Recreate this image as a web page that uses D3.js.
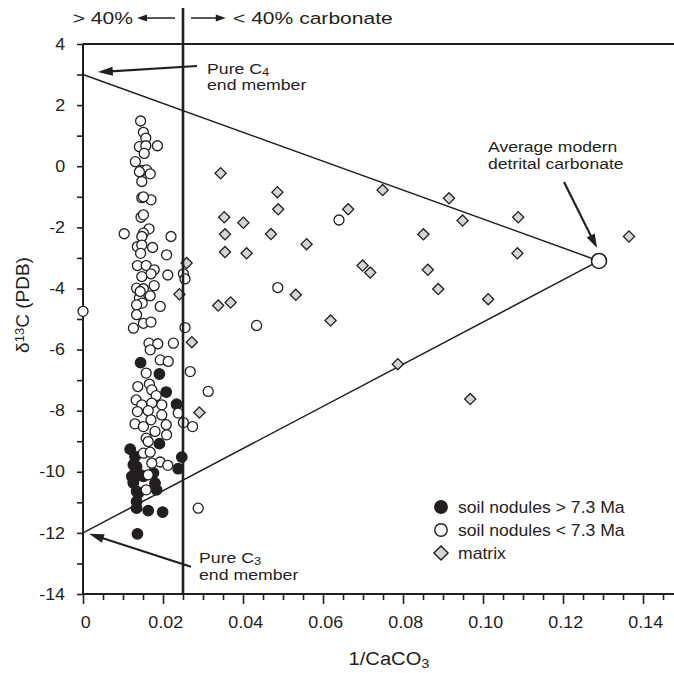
<!DOCTYPE html>
<html>
<head>
<meta charset="utf-8">
<script src="https://cdn.jsdelivr.net/npm/d3@7"></script>
<style>
  body { margin: 0; background: #fff; }
  text { font-family: "Liberation Sans", Arial, Helvetica, sans-serif; fill: #231f20; }
</style>
</head>
<body>
<script>
// soil nodules > 7.3 Ma  [1/CaCO3, d13C]
var oldNodules = [
  [0.0144,-6.43],[0.0191,-6.80],[0.0208,-7.39],[0.0234,-7.79],[0.0191,-9.08],
  [0.0118,-9.26],[0.0130,-9.50],[0.0247,-9.52],[0.0238,-9.90],[0.0134,-9.83],
  [0.0122,-10.15],[0.0143,-10.10],[0.0126,-10.37],[0.0180,-10.37],[0.0184,-10.59],
  [0.0138,-10.70],[0.0134,-11.19],[0.0163,-11.27],[0.0199,-11.32],[0.0136,-12.03],
  [0.0126,-9.77],[0.0130,-10.04],[0.0126,-10.32],[0.0176,-10.04],[0.0134,-10.97],
  [0.0134,-10.64],[0.0151,-10.15]
]

// soil nodules < 7.3 Ma
var youngNodules = [
  [0.0144,1.48],[0.0151,1.11],[0.0157,0.92],[0.0141,0.64],[0.0157,0.67],
  [0.0186,0.67],[0.0153,0.42],[0.0131,0.15],[0.0147,-0.14],[0.0159,-0.12],
  [0.0168,-0.25],[0.0141,-0.18],[0.0147,-0.50],[0.0147,-1.03],[0.0170,-1.10],
  [0.0151,-1.00],[0.0145,-1.67],[0.0151,-1.59],[0.0103,-2.21],[0.0165,-2.05],
  [0.0151,-2.19],[0.0147,-2.30],[0.0220,-2.30],[0.0136,-2.63],[0.0147,-2.58],
  [0.0174,-2.66],[0.0144,-2.85],[0.0209,-2.90],[0.0136,-3.25],[0.0158,-3.25],
  [0.0178,-3.39],[0.0170,-3.52],[0.0147,-3.61],[0.0212,-3.56],[0.0251,-3.52],
  [0.0255,-3.69],[0.0134,-3.99],[0.0151,-4.01],[0.0178,-3.91],[0.0168,-4.24],
  [0.0141,-4.31],[0.0143,-4.10],[0.0148,-4.48],[0.0134,-4.54],[0.0193,-4.59],
  [0.0000,-4.75],[0.0134,-4.86],[0.0151,-5.14],[0.0170,-5.10],[0.0126,-5.30],
  [0.0255,-5.28],[0.0165,-5.79],[0.0187,-5.81],[0.0168,-6.01],[0.0226,-5.79],
  [0.0193,-6.34],[0.0213,-6.39],[0.0158,-6.77],[0.0268,-6.72],[0.0313,-7.37],
  [0.0166,-7.13],[0.0137,-7.21],[0.0172,-7.32],[0.0183,-7.51],[0.0133,-7.65],
  [0.0147,-7.81],[0.0172,-7.75],[0.0197,-7.81],[0.0136,-8.03],[0.0163,-8.00],
  [0.0197,-8.14],[0.0238,-8.08],[0.0170,-8.30],[0.0130,-8.43],[0.0151,-8.52],
  [0.0208,-8.46],[0.0251,-8.39],[0.0274,-8.52],[0.0180,-8.68],[0.0209,-8.79],
  [0.0158,-8.90],[0.0163,-9.01],[0.0151,-9.39],[0.0168,-9.36],[0.0193,-9.68],
  [0.0212,-9.79],[0.0172,-9.72],[0.0163,-10.10],[0.0158,-10.59],[0.0288,-11.19],
  [0.0640,-1.76],[0.0487,-3.97],[0.0434,-5.21]
]

// matrix samples
var matrix = [
  [0.0259,-3.17],[0.0241,-4.19],[0.0272,-5.76],[0.0291,-8.06],[0.0344,-0.23],
  [0.0486,-0.85],[0.0488,-1.41],[0.0353,-1.67],[0.0401,-1.85],[0.0355,-2.23],
  [0.0470,-2.22],[0.0559,-2.55],[0.0355,-2.81],[0.0409,-2.85],[0.0663,-1.41],
  [0.0749,-0.78],[0.0699,-3.25],[0.0718,-3.48],[0.0851,-2.23],[0.0862,-3.39],
  [0.0888,-4.02],[0.0915,-1.05],[0.0949,-1.78],[0.1088,-1.67],[0.1086,-2.85],
  [0.1013,-4.35],[0.1365,-2.30],[0.0532,-4.21],[0.0338,-4.56],[0.0369,-4.46],
  [0.0619,-5.05],[0.0787,-6.48],[0.0968,-7.62]
]

// end members and mixing lines
var modern = [0.129, -3.1]
var c4End = [0, 3]
var c3End = [0, -12]
var carbonateCut = 0.025

var xTicks = d3.range(0, 0.1451, 0.005)
var yTicks = d3.range(-14, 4.01, 1)

var legendItems = ['soil nodules > 7.3 Ma', 'soil nodules < 7.3 Ma', 'matrix']

var W = 674, H = 673
var ink = '#231f20'
var grey = '#d4d5d6'

var svg = d3.select('body').append('svg')
  .attr('width', W).attr('height', H)
  .style('background-color', '#fff')

var x = d3.scaleLinear().domain([0, 0.14]).range([83, 643])
var y = d3.scaleLinear().domain([-14, 4]).range([594, 44])
var xEdge = x.invert(W)

function isMajor(d){ return Math.abs(d / 0.02 - Math.round(d / 0.02)) < 1e-6 }

// text helper, original lettering is a bit wide
function label(px, py, str, size, k, anchor){
  return svg.append('text')
    .attr('transform', 'translate(' + px + ',' + py + ') scale(' + k + ',1)')
    .attr('font-size', size)
    .attr('text-anchor', anchor || 'start')
    .text(str)
}

function arrow(from, to, w, headLen, headW){
  var x1 = x(from[0]), y1 = y(from[1]), x2 = x(to[0]), y2 = y(to[1])
  var dx = x2 - x1, dy = y2 - y1, L = Math.sqrt(dx * dx + dy * dy)
  var ux = dx / L, uy = dy / L
  var bx = x2 - ux * headLen, by = y2 - uy * headLen
  svg.append('line')
    .attr('x1', x1).attr('y1', y1).attr('x2', bx + ux * 2).attr('y2', by + uy * 2)
    .attr('stroke', ink).attr('stroke-width', w)
  svg.append('path')
    .attr('d', 'M' + x2 + ',' + y2 +
      'L' + (bx - uy * headW / 2) + ',' + (by + ux * headW / 2) +
      'L' + (bx + uy * headW / 2) + ',' + (by - ux * headW / 2) + 'Z')
    .attr('fill', ink)
}

// axes
var yAxis = d3.axisLeft(y).tickValues(yTicks)
  .tickSizeInner(6).tickSizeOuter(0).tickPadding(10)
  .tickFormat(function(d){ return d % 2 === 0 ? String(d) : '' })
var gy = svg.append('g').attr('transform', 'translate(' + x(0) + ',0)').call(yAxis)
gy.select('.domain').remove()
gy.selectAll('line').attr('stroke', ink).attr('stroke-width', 1.6)
gy.selectAll('text').attr('font-size', 16).attr('fill', ink)
  .attr('font-family', '"Liberation Sans", Arial, sans-serif')
  .attr('transform', 'scale(1.12,1)')

var xAxis = d3.axisBottom(x).tickValues(xTicks)
  .tickSizeInner(6).tickSizeOuter(0).tickPadding(17)
  .tickFormat(function(d){ return isMajor(d) ? (d === 0 ? '0' : d.toFixed(2)) : '' })
var gx = svg.append('g').attr('transform', 'translate(0,' + y(-14) + ')').call(xAxis)
gx.select('.domain').remove()
gx.selectAll('line').attr('stroke', ink).attr('stroke-width', 1.6)
  .attr('y2', function(d){ return isMajor(d) ? 10 : 6 })
gx.selectAll('text').attr('font-size', 16).attr('fill', ink)
  .attr('font-family', '"Liberation Sans", Arial, sans-serif')
  .attr('x', 2)
  .attr('transform', 'scale(1.12,1)')

// frame lines
svg.append('line').attr('x1', x(0)).attr('x2', x(0)).attr('y1', y(4)).attr('y2', y(-14))
  .attr('stroke', ink).attr('stroke-width', 2)
svg.append('line').attr('x1', x(0)).attr('x2', x(xEdge)).attr('y1', y(-14)).attr('y2', y(-14))
  .attr('stroke', ink).attr('stroke-width', 2)
svg.append('line').attr('x1', x(0)).attr('x2', x(xEdge)).attr('y1', y(4)).attr('y2', y(4))
  .attr('stroke', ink).attr('stroke-width', 1.8)

// mixing lines
var mix = d3.line().x(function(d){ return x(d[0]) }).y(function(d){ return y(d[1]) })
svg.append('path').attr('d', mix([c4End, modern])).attr('fill', 'none')
  .attr('stroke', ink).attr('stroke-width', 1.5)
svg.append('path').attr('d', mix([c3End, modern])).attr('fill', 'none')
  .attr('stroke', ink).attr('stroke-width', 1.5)

// points
var diamond = d3.symbol().type(d3.symbolSquare).size(62)
svg.append('g').selectAll('path').data(matrix).enter().append('path')
  .attr('d', diamond)
  .attr('transform', function(d){ return 'translate(' + x(d[0]) + ',' + y(d[1]) + ') rotate(45)' })
  .attr('fill', grey).attr('stroke', ink).attr('stroke-width', 1.3)

svg.append('g').selectAll('circle').data(oldNodules).enter().append('circle')
  .attr('cx', function(d){ return x(d[0]) }).attr('cy', function(d){ return y(d[1]) })
  .attr('r', 5.3).attr('fill', ink).attr('stroke', ink).attr('stroke-width', 1.2)

svg.append('g').selectAll('circle').data(youngNodules).enter().append('circle')
  .attr('cx', function(d){ return x(d[0]) }).attr('cy', function(d){ return y(d[1]) })
  .attr('r', 5).attr('fill', '#fff').attr('stroke', ink).attr('stroke-width', 1.3)

svg.append('circle').attr('cx', x(modern[0])).attr('cy', y(modern[1])).attr('r', 7.5)
  .attr('fill', '#fff').attr('stroke', ink).attr('stroke-width', 1.6)

// 40% carbonate line
svg.append('line').attr('x1', x(carbonateCut)).attr('x2', x(carbonateCut))
  .attr('y1', y(5.18)).attr('y2', y(-14))
  .attr('stroke', ink).attr('stroke-width', 2.6)

// header
label(x(0.0125), 24, '> 40%', 17, 1.24, 'end')
label(x(0.0375), 24, '< 40% carbonate', 17, 1.24, 'start')
arrow([0.023, 4.85], [0.0135, 4.85], 1.5, 10, 7)
arrow([0.027, 4.85], [0.0357, 4.85], 1.5, 10, 7)

// annotations
var t = label(x(0.031), 74, 'Pure C', 15, 1.18)
t.append('tspan').attr('font-size', 11).attr('dy', 2).text('4')
label(x(0.031), 90, 'end member', 15, 1.18)
arrow([0.0285, 3.28], [0.0037, 3.08], 2.2, 15, 9)

t = label(x(0.029), 563, 'Pure C', 15, 1.18)
t.append('tspan').attr('font-size', 11).attr('dy', 2).text('3')
label(x(0.029), 580, 'end member', 15, 1.18)
arrow([0.027, -13.11], [0.0015, -12.03], 2.2, 15, 9)

label(x(0.10125), 152, 'Average modern', 15, 1.17)
label(x(0.10125), 169, 'detrital carbonate', 15, 1.17)
arrow([0.12025, -0.52], [0.1285, -2.68], 2.2, 14, 9)

// legend
var lg = svg.append('g').attr('transform', 'translate(441,507)')
legendItems.forEach(function(name, i){
  var row = lg.append('g').attr('transform', 'translate(0,' + (i * 23) + ')')
  if(i === 2){
    row.append('path').attr('d', d3.symbol().type(d3.symbolSquare).size(100))
      .attr('transform', 'rotate(45)')
      .attr('fill', grey).attr('stroke', ink).attr('stroke-width', 1.4)
  } else {
    row.append('circle').attr('r', 6.2)
      .attr('fill', i === 0 ? ink : '#fff').attr('stroke', ink).attr('stroke-width', 1.4)
  }
  row.append('text').attr('transform', 'translate(17,6) scale(1.1,1)')
    .attr('font-size', 16).text(name)
})

// axis titles
t = label(389, 665, '1/CaCO', 18, 1.12, 'middle')
t.append('tspan').attr('font-size', 13).attr('dy', 3).text('3')

var yt = svg.append('text')
  .attr('transform', 'translate(29,305) rotate(-90)')
  .attr('font-size', 19).attr('text-anchor', 'middle')
yt.append('tspan').text('\u03b4')
yt.append('tspan').attr('font-size', 13).attr('dy', -5).text('13')
yt.append('tspan').attr('dy', 5).text('C (PDB)')
</script>
</body>
</html>
